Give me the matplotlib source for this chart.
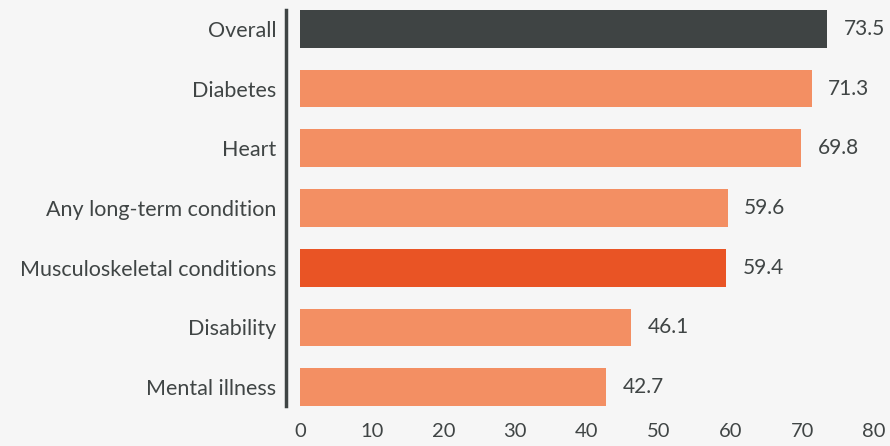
import matplotlib
matplotlib.use("Agg")
import matplotlib.pyplot as plt

categories = ["Overall", "Diabetes", "Heart", "Any long-term condition",
              "Musculoskeletal conditions", "Disability", "Mental illness"]
values = [73.5, 71.3, 69.8, 59.6, 59.4, 46.1, 42.7]
colors = ["#3f4444", "#f38f63", "#f38f63", "#f38f63", "#e95425", "#f38f63", "#f38f63"]
xticks = [0, 10, 20, 30, 40, 50, 60, 70, 80]

bg = "#f6f6f6"
txt = "#404545"
font = "Lato"

fig = plt.figure(figsize=(8.9, 4.46), dpi=100, facecolor=bg)
ax = fig.add_axes([300/890, 1-406/446, 574/890, 396/446], facecolor=bg)

for s in ["top", "right", "bottom"]:
    ax.spines[s].set_visible(False)
ax.spines["left"].set_position(("outward", 10))
ax.spines["left"].set_linewidth(2.5)
ax.spines["left"].set_color("#3f4444")

h = 0.633
y = list(range(len(categories)))
ax.barh(y, values, height=h, color=colors)
ax.set_ylim(len(categories) - 1 + h/2, -h/2)
ax.set_xlim(0, 80)

for yi, v in zip(y, values):
    ax.annotate(f"{v:.1f}", (v, yi), xytext=(12, 0), textcoords="offset points",
                va="center", ha="left", fontsize=15, color=txt, family=font)

ax.set_yticks(y)
ax.set_yticklabels(categories, fontsize=15.5, color=txt, family=font)
ax.set_xticks(xticks)
ax.set_xticklabels([str(t) for t in xticks], fontsize=14.5, color=txt, family=font)
ax.tick_params(axis="y", length=0, pad=7)
ax.tick_params(axis="x", length=0, pad=12)

fig.savefig("out.png", dpi=100, facecolor=bg)
